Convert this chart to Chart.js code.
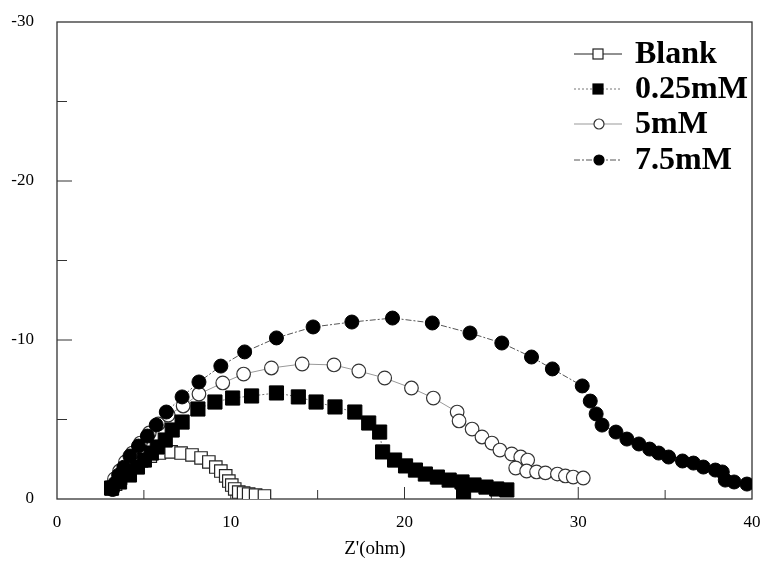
<!DOCTYPE html>
<html lang="en">
<head>
    <meta charset="UTF-8">
    <title>Nyquist plot</title>
    <script src="https://cdn.jsdelivr.net/npm/chart.js"></script>
    <style>
        body {
            margin: 0;
            padding: 0;
            background-color: #fff;
        }
        #wrap {
            width: 763px;
            height: 561px;
        }
    </style>
</head>
<body>
    <div id="wrap"><canvas id="nyquist" width="763" height="561"></canvas></div>

    <script>
        // Blank (open squares)
        const blankX = [3.14, 3.37, 3.66, 4.0, 4.4, 4.86, 5.37, 5.89, 6.57, 7.14, 7.77, 8.29, 8.74, 9.14, 9.43, 9.71, 9.89, 10.06, 10.23, 10.46, 10.74, 11.03, 11.43, 11.94];
        const blankY = [-0.63, -0.94, -1.32, -1.7, -2.08, -2.39, -2.7, -2.89, -2.96, -2.89, -2.77, -2.58, -2.33, -2.01, -1.76, -1.45, -1.13, -0.88, -0.63, -0.44, -0.38, -0.31, -0.25, -0.19];

        // 0.25mM (filled squares)
        const c025X = [3.14, 3.6, 4.17, 4.63, 5.03, 5.43, 5.77, 6.23, 6.63, 7.2, 8.11, 9.09, 10.11, 11.2, 12.63, 13.89, 14.91, 16.0, 17.14, 17.94, 18.57, 18.74, 19.43, 20.06, 20.63, 21.2, 21.89, 22.57, 23.31, 23.4, 24.0, 24.69, 25.31, 25.89];
        const c025Y = [-0.69, -1.07, -1.51, -2.01, -2.45, -2.89, -3.27, -3.71, -4.34, -4.84, -5.66, -6.1, -6.35, -6.48, -6.67, -6.42, -6.1, -5.79, -5.47, -4.78, -4.21, -2.96, -2.45, -2.08, -1.82, -1.57, -1.38, -1.19, -1.07, -0.42, -0.88, -0.75, -0.63, -0.57];

        // 5mM (open circles)
        const c5X = [3.14, 3.31, 3.6, 3.94, 4.34, 4.8, 5.31, 5.83, 6.4, 7.26, 8.17, 9.54, 10.74, 12.34, 14.11, 15.94, 17.37, 18.86, 20.4, 21.66, 23.03, 23.14, 23.89, 24.46, 25.03, 25.49, 26.17, 26.69, 27.09, 26.4, 27.03, 27.6, 28.11, 28.8, 29.26, 29.71, 30.29];
        const c5Y = [-0.82, -1.26, -1.76, -2.33, -2.89, -3.52, -4.15, -4.72, -5.28, -5.85, -6.6, -7.3, -7.86, -8.24, -8.49, -8.43, -8.05, -7.61, -6.98, -6.35, -5.47, -4.91, -4.4, -3.9, -3.52, -3.08, -2.83, -2.64, -2.45, -1.95, -1.76, -1.7, -1.64, -1.57, -1.45, -1.38, -1.32];

        // 7.5mM (filled circles)
        const c75X = [3.2, 3.35, 3.55, 3.85, 4.2, 4.69, 5.2, 5.71, 6.29, 7.2, 8.17, 9.43, 10.8, 12.63, 14.74, 16.97, 19.31, 21.6, 23.77, 25.6, 27.31, 28.51, 30.23, 30.69, 31.03, 31.37, 32.17, 32.8, 33.49, 34.11, 34.63, 35.2, 36.0, 36.63, 37.2, 37.89, 38.29, 38.46, 38.97, 39.71];
        const c75Y = [-0.6, -1.0, -1.5, -2.0, -2.7, -3.33, -3.96, -4.65, -5.47, -6.42, -7.36, -8.36, -9.25, -10.13, -10.82, -11.13, -11.38, -11.07, -10.44, -9.81, -8.93, -8.18, -7.11, -6.16, -5.35, -4.65, -4.21, -3.77, -3.46, -3.14, -2.89, -2.64, -2.39, -2.26, -2.01, -1.82, -1.7, -1.19, -1.07, -0.94];

        const seriesNames = ['Blank', '0.25mM', '5mM', '7.5mM'];

        // axis ticks
        const xMajor = [10, 20, 30];
        const xMinor = [5, 15, 25, 35];
        const yMajor = [-10, -20];
        const yMinor = [-5, -15, -25];

        const FONT = '"Liberation Serif", "Times New Roman", serif';

        function pts(xs, ys) {
            return xs.map((v, i) => ({ x: v, y: ys[i] }));
        }

        // frame + inward ticks + x title
        const framePlugin = {
            id: 'frame',
            beforeDatasetsDraw(chart) {
                const { ctx, chartArea: a, scales } = chart;
                ctx.save();
                ctx.strokeStyle = '#333';
                ctx.lineWidth = 1.3;
                ctx.strokeRect(a.left, a.top, a.right - a.left, a.bottom - a.top);
                ctx.lineWidth = 1;
                ctx.beginPath();
                xMajor.forEach(v => { const px = scales.x.getPixelForValue(v); ctx.moveTo(px, a.bottom); ctx.lineTo(px, a.bottom - 12); });
                xMinor.forEach(v => { const px = scales.x.getPixelForValue(v); ctx.moveTo(px, a.bottom); ctx.lineTo(px, a.bottom - 9); });
                yMajor.forEach(v => { const py = scales.y.getPixelForValue(v); ctx.moveTo(a.left, py); ctx.lineTo(a.left + 15, py); });
                yMinor.forEach(v => { const py = scales.y.getPixelForValue(v); ctx.moveTo(a.left, py); ctx.lineTo(a.left + 10, py); });
                ctx.stroke();

                ctx.fillStyle = '#000';
                ctx.font = '19px ' + FONT;
                ctx.textAlign = 'center';
                ctx.textBaseline = 'middle';
                ctx.fillText("Z'(ohm)", scales.x.getPixelForValue(18.3), 549);
                ctx.restore();
            },
            afterDraw(chart) {
                // legend in the upper right corner
                const { ctx } = chart;
                const rows = [54, 89, 124, 160];
                ctx.save();
                chart.data.datasets.forEach((ds, i) => {
                    const y = rows[i];
                    ctx.strokeStyle = ds.borderColor;
                    ctx.lineWidth = 1;
                    ctx.setLineDash(ds.borderDash || []);
                    ctx.beginPath();
                    ctx.moveTo(574, y);
                    ctx.lineTo(622, y);
                    ctx.stroke();
                    ctx.setLineDash([]);
                    ctx.fillStyle = ds.pointBackgroundColor;
                    ctx.strokeStyle = ds.pointBorderColor;
                    ctx.lineWidth = 1.2;
                    if (ds.pointStyle === 'rect') {
                        ctx.fillRect(593, y - 5, 10, 10);
                        ctx.strokeRect(593, y - 5, 10, 10);
                    } else {
                        ctx.beginPath();
                        ctx.arc(599, y, 5, 0, Math.PI * 2);
                        ctx.fill();
                        ctx.stroke();
                    }
                    ctx.fillStyle = '#000';
                    ctx.font = 'bold 32px ' + FONT;
                    ctx.textAlign = 'left';
                    ctx.textBaseline = 'middle';
                    ctx.fillText(seriesNames[i], 635, y + 1);
                });
                ctx.restore();
            }
        };

        new Chart(document.getElementById('nyquist'), {
            type: 'scatter',
            data: {
                datasets: [
                    {
                        label: seriesNames[0],
                        data: pts(blankX, blankY),
                        showLine: true,
                        borderColor: '#222',
                        borderWidth: 1,
                        pointStyle: 'rect',
                        pointRadius: 8.8,
                        pointBackgroundColor: '#fff',
                        pointBorderColor: '#222',
                        pointBorderWidth: 1.2,
                        order: 3
                    },
                    {
                        label: seriesNames[1],
                        data: pts(c025X, c025Y),
                        showLine: true,
                        borderColor: '#777',
                        borderWidth: 1,
                        borderDash: [2, 2],
                        pointStyle: 'rect',
                        pointRadius: 10,
                        pointBackgroundColor: '#000',
                        pointBorderColor: '#000',
                        pointBorderWidth: 1,
                        order: 1
                    },
                    {
                        label: seriesNames[2],
                        data: pts(c5X, c5Y),
                        showLine: true,
                        borderColor: '#999',
                        borderWidth: 1,
                        pointStyle: 'circle',
                        pointRadius: 6.8,
                        pointBackgroundColor: '#fff',
                        pointBorderColor: '#333',
                        pointBorderWidth: 1.2,
                        order: 2
                    },
                    {
                        label: seriesNames[3],
                        data: pts(c75X, c75Y),
                        showLine: true,
                        borderColor: '#555',
                        borderWidth: 1,
                        borderDash: [6, 2, 2, 2],
                        pointStyle: 'circle',
                        pointRadius: 7,
                        pointBackgroundColor: '#000',
                        pointBorderColor: '#000',
                        pointBorderWidth: 1,
                        order: 0
                    }
                ]
            },
            options: {
                responsive: false,
                animation: false,
                layout: { padding: { top: 22, right: 6, left: 0, bottom: 0 } },
                plugins: {
                    legend: { display: false },
                    tooltip: { enabled: false }
                },
                scales: {
                    x: {
                        type: 'linear',
                        min: 0,
                        max: 40,
                        grid: { display: false, drawTicks: false },
                        border: { display: false },
                        ticks: { stepSize: 10, padding: 13, color: '#000', font: { family: FONT, size: 17 } },
                        afterFit(scale) {
                            scale.height = 62;
                            scale.paddingLeft = 0;
                            scale.paddingRight = 0;
                        }
                    },
                    y: {
                        type: 'linear',
                        min: -30,
                        max: 0,
                        reverse: true,
                        grid: { display: false, drawTicks: false },
                        border: { display: false },
                        ticks: { stepSize: 10, padding: 23, color: '#000', font: { family: FONT, size: 17 } },
                        afterFit(scale) {
                            scale.width = 57;
                            scale.paddingTop = 0;
                            scale.paddingBottom = 0;
                        }
                    }
                }
            },
            plugins: [framePlugin]
        });
    </script>
</body>
</html>
